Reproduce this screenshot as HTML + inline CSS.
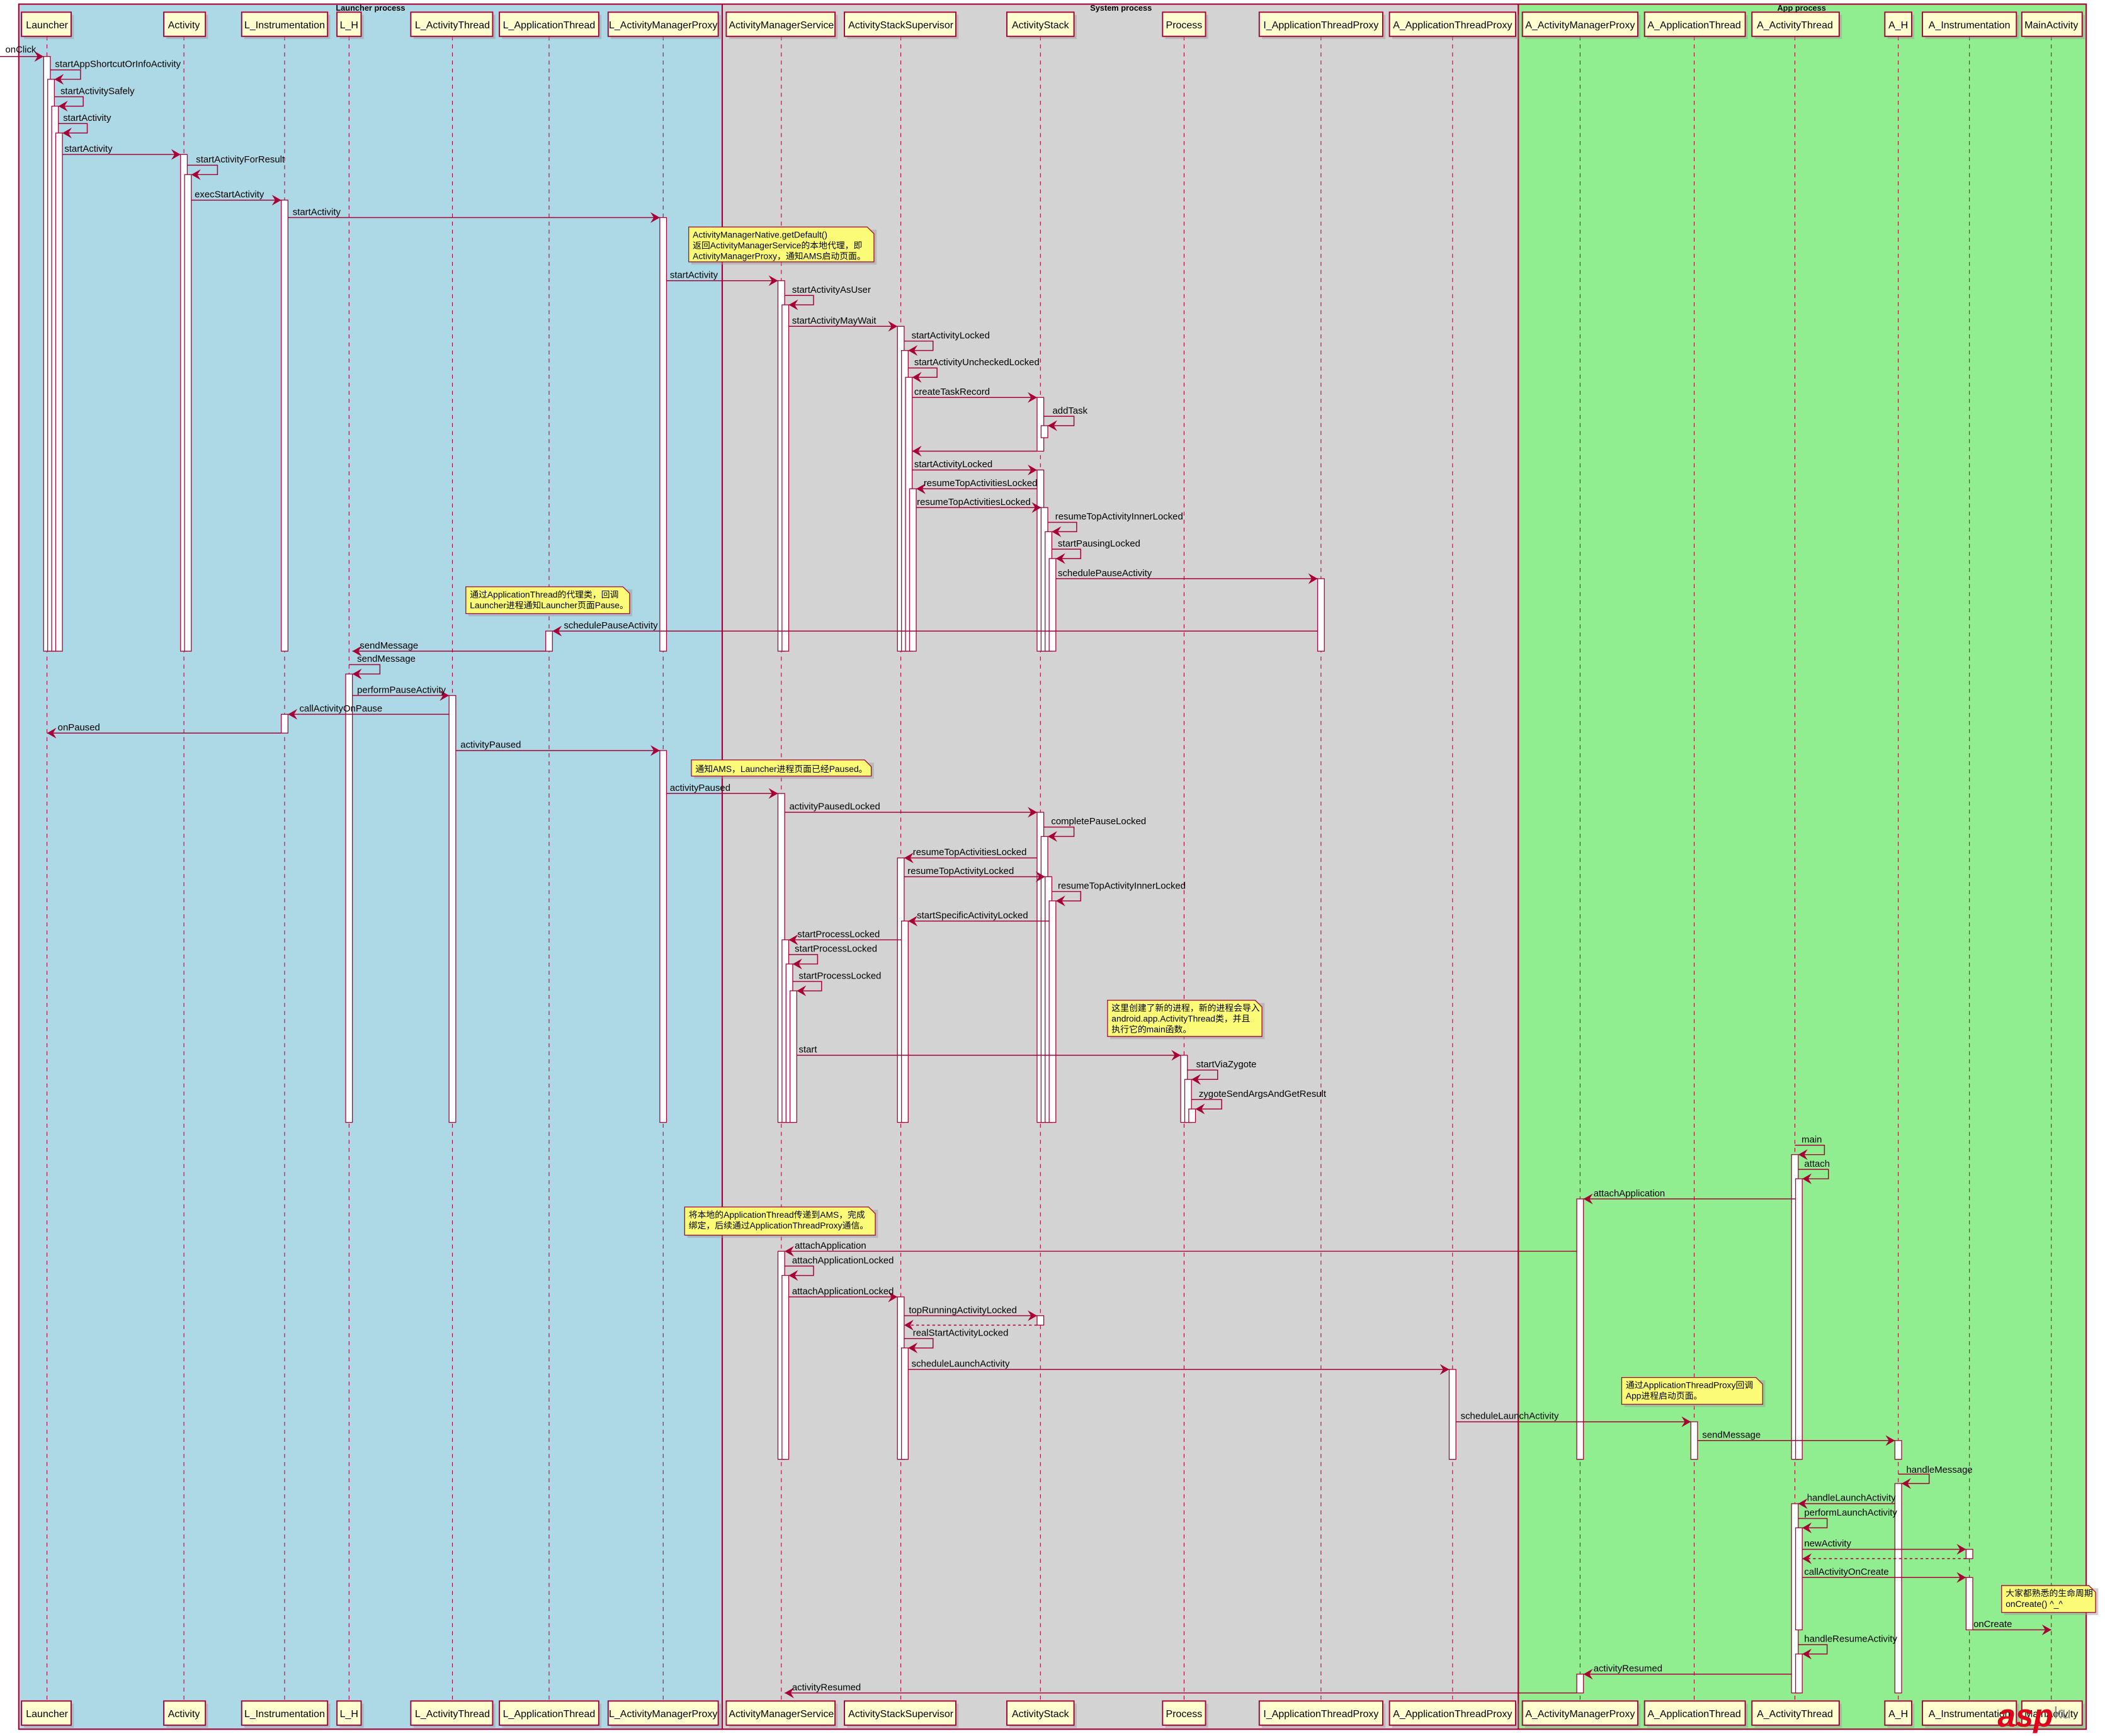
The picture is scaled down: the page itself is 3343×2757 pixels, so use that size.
<!DOCTYPE html>
<html><head><meta charset="utf-8"><style>
html,body{margin:0;padding:0;background:#fff}
svg{display:block}
text{font-family:"Liberation Sans","Noto Sans CJK SC",sans-serif;font-size:7px;fill:#000}
.p{font-size:7.5px;text-anchor:middle}
.g{font-size:6px;font-weight:bold;text-anchor:middle}
.n{font-size:6.5px}
.ll{stroke:#A80036;stroke-width:.5;stroke-dasharray:3,3}
.b{fill:#fff;stroke:#A80036;stroke-width:.6}
.m{stroke:#A80036;stroke-width:.7;fill:none;marker-end:url(#a)}
.d{stroke-dasharray:2,2}
.pb{fill:#FEFECE;stroke:#A80036;stroke-width:.9}
.sh{fill:#999;opacity:.45}
.nt{fill:#FBFB77;stroke:#A80036;stroke-width:.6}
</style></head><body>
<svg width="3343" height="2757" viewBox="0 0 1568 1293" xmlns="http://www.w3.org/2000/svg">
<defs><marker id="a" markerUnits="userSpaceOnUse" markerWidth="8" markerHeight="8" refX="7" refY="4" orient="auto"><path d="M0,0 L7,4 L0,8 L2.5,4 z" fill="#A80036"/></marker></defs>
<rect x="14" y="3" width="524" height="1285" fill="#ADD8E6" stroke="#A80036" stroke-width="1"/>
<rect x="538" y="3" width="593" height="1285" fill="#D3D3D3" stroke="#A80036" stroke-width="1"/>
<rect x="1131" y="3" width="423" height="1285" fill="#90EE90" stroke="#A80036" stroke-width="1"/>
<g class="ll">
<line x1="35" y1="27" x2="35" y2="1267"/><line x1="137" y1="27" x2="137" y2="1267"/><line x1="212" y1="27" x2="212" y2="1267"/><line x1="260" y1="27" x2="260" y2="1267"/><line x1="337" y1="27" x2="337" y2="1267"/><line x1="409" y1="27" x2="409" y2="1267"/><line x1="494" y1="27" x2="494" y2="1267"/><line x1="582" y1="27" x2="582" y2="1267"/><line x1="671" y1="27" x2="671" y2="1267"/><line x1="775" y1="27" x2="775" y2="1267"/><line x1="882" y1="27" x2="882" y2="1267"/><line x1="984" y1="27" x2="984" y2="1267"/><line x1="1082" y1="27" x2="1082" y2="1267"/><line x1="1177" y1="27" x2="1177" y2="1267"/><line x1="1262" y1="27" x2="1262" y2="1267"/><line x1="1337" y1="27" x2="1337" y2="1267"/><line x1="1414" y1="27" x2="1414" y2="1267"/><line x1="1467" y1="27" x2="1467" y2="1267"/><line x1="1528" y1="27" x2="1528" y2="1267"/>
</g>
<g id="parts">
<rect class="sh" x="18" y="11" width="37" height="18"/><rect class="pb" x="16" y="9" width="37" height="18"/><text class="p" x="35" y="21">Launcher</text>
<rect class="sh" x="124" y="11" width="31" height="18"/><rect class="pb" x="122" y="9" width="31" height="18"/><text class="p" x="137" y="21">Activity</text>
<rect class="sh" x="182" y="11" width="64" height="18"/><rect class="pb" x="180" y="9" width="64" height="18"/><text class="p" x="212" y="21">L_Instrumentation</text>
<rect class="sh" x="253" y="11" width="18" height="18"/><rect class="pb" x="251" y="9" width="18" height="18"/><text class="p" x="260" y="21">L_H</text>
<rect class="sh" x="308" y="11" width="61" height="18"/><rect class="pb" x="306" y="9" width="61" height="18"/><text class="p" x="337" y="21">L_ActivityThread</text>
<rect class="sh" x="374" y="11" width="74" height="18"/><rect class="pb" x="372" y="9" width="74" height="18"/><text class="p" x="409" y="21">L_ApplicationThread</text>
<rect class="sh" x="455" y="11" width="82" height="18"/><rect class="pb" x="453" y="9" width="82" height="18"/><text class="p" x="494" y="21">L_ActivityManagerProxy</text>
<rect class="sh" x="543" y="11" width="81" height="18"/><rect class="pb" x="541" y="9" width="81" height="18"/><text class="p" x="582" y="21">ActivityManagerService</text>
<rect class="sh" x="631" y="11" width="83" height="18"/><rect class="pb" x="629" y="9" width="83" height="18"/><text class="p" x="671" y="21">ActivityStackSupervisor</text>
<rect class="sh" x="752" y="11" width="50" height="18"/><rect class="pb" x="750" y="9" width="50" height="18"/><text class="p" x="775" y="21">ActivityStack</text>
<rect class="sh" x="868" y="11" width="32" height="18"/><rect class="pb" x="866" y="9" width="32" height="18"/><text class="p" x="882" y="21">Process</text>
<rect class="sh" x="940" y="11" width="92" height="18"/><rect class="pb" x="938" y="9" width="92" height="18"/><text class="p" x="984" y="21">I_ApplicationThreadProxy</text>
<rect class="sh" x="1037" y="11" width="94" height="18"/><rect class="pb" x="1035" y="9" width="94" height="18"/><text class="p" x="1082" y="21">A_ApplicationThreadProxy</text>
<rect class="sh" x="1136" y="11" width="86" height="18"/><rect class="pb" x="1134" y="9" width="86" height="18"/><text class="p" x="1177" y="21">A_ActivityManagerProxy</text>
<rect class="sh" x="1227" y="11" width="75" height="18"/><rect class="pb" x="1225" y="9" width="75" height="18"/><text class="p" x="1262" y="21">A_ApplicationThread</text>
<rect class="sh" x="1307" y="11" width="65" height="18"/><rect class="pb" x="1305" y="9" width="65" height="18"/><text class="p" x="1337" y="21">A_ActivityThread</text>
<rect class="sh" x="1406" y="11" width="20" height="18"/><rect class="pb" x="1404" y="9" width="20" height="18"/><text class="p" x="1414" y="21">A_H</text>
<rect class="sh" x="1434" y="11" width="70" height="18"/><rect class="pb" x="1432" y="9" width="70" height="18"/><text class="p" x="1467" y="21">A_Instrumentation</text>
<rect class="sh" x="1508" y="11" width="45" height="18"/><rect class="pb" x="1506" y="9" width="45" height="18"/><text class="p" x="1528" y="21">MainActivity</text>
</g>
<use href="#parts" y="1258"/>
<text class="g" x="276" y="8">Launcher process</text>
<text class="g" x="835" y="8">System process</text>
<text class="g" x="1342" y="8">App process</text>
<g class="b">
<rect x="32.5" y="42" width="5" height="443"/><rect x="35.5" y="59" width="5" height="426"/><rect x="38.5" y="79" width="5" height="406"/><rect x="41.5" y="99" width="5" height="386"/>
<rect x="134.5" y="115" width="5" height="370"/><rect x="137.5" y="130" width="5" height="355"/>
<rect x="209.5" y="149" width="5" height="336"/><rect x="209.5" y="532" width="5" height="14"/>
<rect x="257.5" y="502" width="5" height="334"/>
<rect x="334.5" y="518" width="5" height="318"/>
<rect x="406.5" y="470" width="5" height="15"/>
<rect x="491.5" y="162" width="5" height="323"/><rect x="491.5" y="559" width="5" height="277"/>
<rect x="579.5" y="209" width="5" height="276"/><rect x="582.5" y="227" width="5" height="258"/>
<rect x="579.5" y="591" width="5" height="245"/><rect x="582.5" y="700" width="5" height="136"/><rect x="585.5" y="718" width="5" height="118"/><rect x="588.5" y="738" width="5" height="98"/>
<rect x="579.5" y="932" width="5" height="155"/><rect x="582.5" y="950" width="5" height="137"/>
<rect x="668.5" y="243" width="5" height="242"/><rect x="671.5" y="261" width="5" height="224"/><rect x="674.5" y="281" width="5" height="204"/><rect x="677.5" y="364" width="5" height="121"/>
<rect x="668.5" y="639" width="5" height="197"/><rect x="671.5" y="686" width="5" height="150"/>
<rect x="668.5" y="966" width="5" height="121"/><rect x="671.5" y="1004" width="5" height="83"/>
<rect x="772.5" y="296" width="5" height="40"/><rect x="775.5" y="317" width="5" height="9"/>
<rect x="772.5" y="350" width="5" height="135"/><rect x="775.5" y="378" width="5" height="107"/><rect x="778.5" y="396" width="5" height="89"/><rect x="781.5" y="416" width="5" height="69"/>
<rect x="772.5" y="605" width="5" height="231"/><rect x="775.5" y="623" width="5" height="213"/><rect x="778.5" y="653" width="5" height="183"/><rect x="781.5" y="671" width="5" height="165"/>
<rect x="772.5" y="980" width="5" height="7"/>
<rect x="879.5" y="786" width="5" height="50"/><rect x="882.5" y="804" width="5" height="32"/><rect x="885.5" y="826" width="5" height="10"/>
<rect x="981.5" y="431" width="5" height="54"/>
<rect x="1079.5" y="1020" width="5" height="67"/>
<rect x="1174.5" y="893" width="5" height="194"/><rect x="1174.5" y="1247" width="5" height="14"/>
<rect x="1259.5" y="1059" width="5" height="28"/>
<rect x="1334.5" y="860" width="5" height="227"/><rect x="1337.5" y="878" width="5" height="209"/>
<rect x="1334.5" y="1120" width="5" height="141"/><rect x="1337.5" y="1138" width="5" height="76"/><rect x="1337.5" y="1232" width="5" height="29"/>
<rect x="1411.5" y="1073" width="5" height="14"/><rect x="1411.5" y="1105" width="5" height="156"/>
<rect x="1464.5" y="1154" width="5" height="7"/><rect x="1464.5" y="1175" width="5" height="39"/>
</g>
<g>
<line class="m" x1="0" y1="42" x2="32.5" y2="42"/><text x="4" y="39">onClick</text>
<path class="m" d="M37.5 52H60V59H40.5"/><text x="41" y="50">startAppShortcutOrInfoActivity</text>
<path class="m" d="M40.5 72H62V79H43.5"/><text x="45" y="70">startActivitySafely</text>
<path class="m" d="M43.5 92H65V99H46.5"/><text x="47" y="90">startActivity</text>
<line class="m" x1="46.5" y1="115" x2="134.5" y2="115"/><text x="48" y="113">startActivity</text>
<path class="m" d="M139.5 123H162V130H142.5"/><text x="146" y="121">startActivityForResult</text>
<line class="m" x1="142.5" y1="149" x2="209.5" y2="149"/><text x="145" y="147">execStartActivity</text>
<line class="m" x1="214.5" y1="162" x2="491.5" y2="162"/><text x="218" y="160">startActivity</text>
<line class="m" x1="496.5" y1="209" x2="579.5" y2="209"/><text x="499" y="207">startActivity</text>
<path class="m" d="M584.5 220H606V227H587.5"/><text x="590" y="218">startActivityAsUser</text>
<line class="m" x1="587.5" y1="243" x2="668.5" y2="243"/><text x="590" y="241">startActivityMayWait</text>
<path class="m" d="M673.5 254H695V261H676.5"/><text x="679" y="252">startActivityLocked</text>
<path class="m" d="M676.5 274H698V281H679.5"/><text x="681" y="272">startActivityUncheckedLocked</text>
<line class="m" x1="679.5" y1="296" x2="772.5" y2="296"/><text x="681" y="294">createTaskRecord</text>
<path class="m" d="M777.5 310H800V317H780.5"/><text x="784" y="308">addTask</text>
<line class="m" x1="772.5" y1="336" x2="679.5" y2="336"/>
<line class="m" x1="679.5" y1="350" x2="772.5" y2="350"/><text x="681" y="348">startActivityLocked</text>
<line class="m" x1="772.5" y1="364" x2="682.5" y2="364"/><text x="688" y="362">resumeTopActivitiesLocked</text>
<line class="m" x1="682.5" y1="378" x2="775.5" y2="378"/><text x="683" y="376">resumeTopActivitiesLocked</text>
<path class="m" d="M780.5 389H802V396H783.5"/><text x="786" y="387">resumeTopActivityInnerLocked</text>
<path class="m" d="M783.5 409H805V416H786.5"/><text x="788" y="407">startPausingLocked</text>
<line class="m" x1="786.5" y1="431" x2="981.5" y2="431"/><text x="788" y="429">schedulePauseActivity</text>
<line class="m" x1="981.5" y1="470" x2="411.5" y2="470"/><text x="420" y="468">schedulePauseActivity</text>
<line class="m" x1="406.5" y1="485" x2="262.5" y2="485"/><text x="268" y="483">sendMessage</text>
<path class="m" d="M260 495H283V502H262.5"/><text x="266" y="493">sendMessage</text>
<line class="m" x1="262.5" y1="518" x2="334.5" y2="518"/><text x="266" y="516">performPauseActivity</text>
<line class="m" x1="334.5" y1="532" x2="214.5" y2="532"/><text x="223" y="530">callActivityOnPause</text>
<line class="m" x1="209.5" y1="546" x2="35" y2="546"/><text x="43" y="544">onPaused</text>
<line class="m" x1="339.5" y1="559" x2="491.5" y2="559"/><text x="343" y="557">activityPaused</text>
<line class="m" x1="496.5" y1="591" x2="579.5" y2="591"/><text x="499" y="589">activityPaused</text>
<line class="m" x1="584.5" y1="605" x2="772.5" y2="605"/><text x="588" y="603">activityPausedLocked</text>
<path class="m" d="M777.5 616H800V623H780.5"/><text x="783" y="614">completePauseLocked</text>
<line class="m" x1="772.5" y1="639" x2="673.5" y2="639"/><text x="680" y="637">resumeTopActivitiesLocked</text>
<line class="m" x1="673.5" y1="653" x2="778.5" y2="653"/><text x="676" y="651">resumeTopActivityLocked</text>
<path class="m" d="M783.5 664H805V671H786.5"/><text x="788" y="662">resumeTopActivityInnerLocked</text>
<line class="m" x1="781.5" y1="686" x2="676.5" y2="686"/><text x="683" y="684">startSpecificActivityLocked</text>
<line class="m" x1="671.5" y1="700" x2="587.5" y2="700"/><text x="594" y="698">startProcessLocked</text>
<path class="m" d="M587.5 711H609V718H590.5"/><text x="592" y="709">startProcessLocked</text>
<path class="m" d="M590.5 731H612V738H593.5"/><text x="595" y="729">startProcessLocked</text>
<line class="m" x1="593.5" y1="786" x2="879.5" y2="786"/><text x="595" y="784">start</text>
<path class="m" d="M884.5 797H907V804H887.5"/><text x="891" y="795">startViaZygote</text>
<path class="m" d="M887.5 819H910V826H890.5"/><text x="893" y="817">zygoteSendArgsAndGetResult</text>
<path class="m" d="M1337 853H1359V860H1339.5"/><text x="1342" y="851">main</text>
<path class="m" d="M1339.5 871H1362V878H1342.5"/><text x="1344" y="869">attach</text>
<line class="m" x1="1337.5" y1="893" x2="1179.5" y2="893"/><text x="1187" y="891">attachApplication</text>
<line class="m" x1="1174.5" y1="932" x2="584.5" y2="932"/><text x="592" y="930">attachApplication</text>
<path class="m" d="M584.5 943H606V950H587.5"/><text x="590" y="941">attachApplicationLocked</text>
<line class="m" x1="587.5" y1="966" x2="668.5" y2="966"/><text x="590" y="964">attachApplicationLocked</text>
<line class="m" x1="673.5" y1="980" x2="772.5" y2="980"/><text x="677" y="978">topRunningActivityLocked</text>
<line class="m d" x1="772.5" y1="987" x2="673.5" y2="987"/>
<path class="m" d="M673.5 997H695V1004H676.5"/><text x="680" y="995">realStartActivityLocked</text>
<line class="m" x1="676.5" y1="1020" x2="1079.5" y2="1020"/><text x="679" y="1018">scheduleLaunchActivity</text>
<line class="m" x1="1084.5" y1="1059" x2="1259.5" y2="1059"/><text x="1088" y="1057">scheduleLaunchActivity</text>
<line class="m" x1="1264.5" y1="1073" x2="1411.5" y2="1073"/><text x="1268" y="1071">sendMessage</text>
<path class="m" d="M1414 1098H1437V1105H1416.5"/><text x="1420" y="1097">handleMessage</text>
<line class="m" x1="1411.5" y1="1120" x2="1339.5" y2="1120"/><text x="1346" y="1118">handleLaunchActivity</text>
<path class="m" d="M1339.5 1131H1361V1138H1342.5"/><text x="1344" y="1129">performLaunchActivity</text>
<line class="m" x1="1342.5" y1="1154" x2="1464.5" y2="1154"/><text x="1344" y="1152">newActivity</text>
<line class="m d" x1="1464.5" y1="1161" x2="1342.5" y2="1161"/>
<line class="m" x1="1342.5" y1="1175" x2="1464.5" y2="1175"/><text x="1344" y="1173">callActivityOnCreate</text>
<line class="m" x1="1469.5" y1="1214" x2="1528" y2="1214"/><text x="1470" y="1212">onCreate</text>
<path class="m" d="M1339.5 1225H1361V1232H1342.5"/><text x="1344" y="1223">handleResumeActivity</text>
<line class="m" x1="1334.5" y1="1247" x2="1179.5" y2="1247"/><text x="1187" y="1245">activityResumed</text>
<line class="m" x1="1174.5" y1="1261" x2="584.5" y2="1261"/><text x="590" y="1259">activityResumed</text>
</g>
<g>
<rect class="sh" x="515" y="171" width="138" height="26"/><path class="nt" d="M513 169H646L651 174V195H513Z"/>
<text class="n" x="516" y="177">ActivityManagerNative.getDefault()</text><text class="n" x="516" y="185">返回ActivityManagerService的本地代理，即</text><text class="n" x="516" y="193">ActivityManagerProxy，通知AMS启动页面。</text>
<rect class="sh" x="349" y="439" width="122" height="20"/><path class="nt" d="M347 437H464L469 442V457H347Z"/>
<text class="n" x="350" y="445">通过ApplicationThread的代理类，回调</text><text class="n" x="350" y="453">Launcher进程通知Launcher页面Pause。</text>
<rect class="sh" x="517" y="568" width="134" height="12"/><path class="nt" d="M515 566H644L649 571V578H515Z"/>
<text class="n" x="518" y="575">通知AMS，Launcher进程页面已经Paused。</text>
<rect class="sh" x="827" y="747" width="115" height="27"/><path class="nt" d="M825 745H935L940 750V772H825Z"/>
<text class="n" x="828" y="753">这里创建了新的进程，新的进程会导入</text><text class="n" x="828" y="761">android.app.ActivityThread类，并且</text><text class="n" x="828" y="769">执行它的main函数。</text>
<rect class="sh" x="512" y="901" width="142" height="21"/><path class="nt" d="M510 899H647L652 904V920H510Z"/>
<text class="n" x="513" y="907">将本地的ApplicationThread传递到AMS，完成</text><text class="n" x="513" y="915">绑定，后续通过ApplicationThreadProxy通信。</text>
<rect class="sh" x="1210" y="1028" width="105" height="20"/><path class="nt" d="M1208 1026H1308L1313 1031V1046H1208Z"/>
<text class="n" x="1211" y="1034">通过ApplicationThreadProxy回调</text><text class="n" x="1211" y="1042">App进程启动页面。</text>
<rect class="sh" x="1493" y="1183" width="70" height="20"/><path class="nt" d="M1491 1181H1556L1561 1186V1201H1491Z"/>
<text class="n" x="1494" y="1189">大家都熟悉的生命周期</text><text class="n" x="1494" y="1197">onCreate() ^_^</text>
</g>
<text x="1488" y="1286" style="font-size:24px;font-weight:bold;font-style:italic;fill:#e0001b">asp</text>
<text x="1530" y="1280" style="font-size:12px;fill:#888">ku</text>
</svg>
</body></html>
